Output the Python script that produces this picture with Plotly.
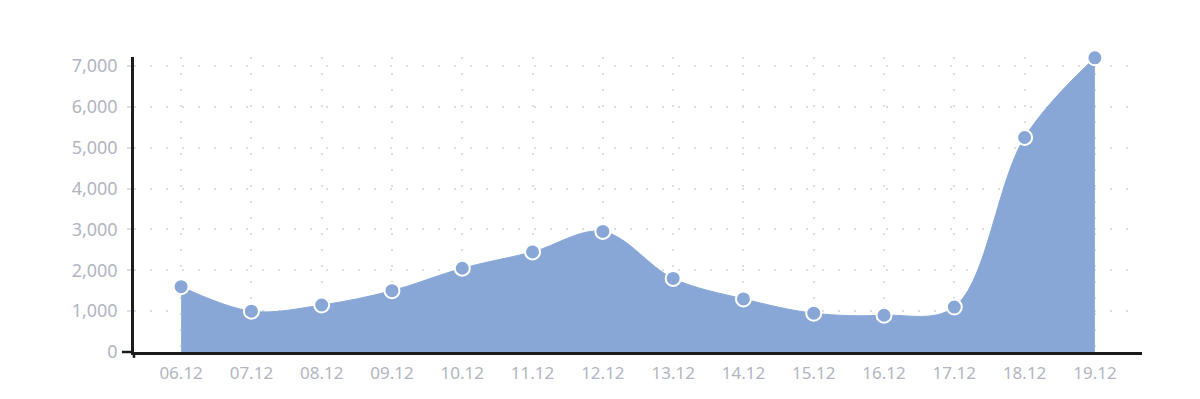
import plotly.graph_objects as go

dates = ["06.12", "07.12", "08.12", "09.12", "10.12", "11.12", "12.12",
         "13.12", "14.12", "15.12", "16.12", "17.12", "18.12", "19.12"]
values = [1600, 1000, 1150, 1500, 2050, 2450, 2950,
          1800, 1300, 950, 900, 1100, 5250, 7200]
y_ticks = [0, 1000, 2000, 3000, 4000, 5000, 6000, 7000]

x_idx = list(range(len(dates)))
fill_col = "#88a7d7"
label_col = "#b2b5c1"
grid_col = "#dcdee4"

fig = go.Figure()
fig.add_trace(go.Scatter(
    x=x_idx, y=values, mode="lines+markers",
    line=dict(shape="spline", smoothing=1.0, color=fill_col, width=1),
    fill="tozeroy", fillcolor=fill_col,
    marker=dict(size=15, color=fill_col, line=dict(color="white", width=2)),
    cliponaxis=False, hoverinfo="skip", showlegend=False,
))

fig.update_layout(
    width=1200, height=399,
    margin=dict(l=134, r=58, t=57, b=47),
    paper_bgcolor="white", plot_bgcolor="white",
    font=dict(family="Noto Sans", size=17, color=label_col),
    xaxis=dict(
        range=[-0.67, 13.67], tickvals=x_idx, ticktext=dates,
        showgrid=True, gridcolor=grid_col, gridwidth=2, griddash="2px,14px",
        showline=True, linecolor="#1c1c1c", linewidth=2.5,
        ticks="", zeroline=False, tickfont=dict(size=17, color=label_col),
        ticklabelstandoff=4,
    ),
    yaxis=dict(
        range=[0, 7220], tickvals=y_ticks, tickformat=",d",
        showgrid=True, gridcolor=grid_col, gridwidth=2, griddash="2px,14px",
        showline=True, linecolor="#1c1c1c", linewidth=2.5,
        ticks="outside", ticklen=4, tickcolor=grid_col, tickwidth=2,
        zeroline=False, tickfont=dict(size=18, color=label_col),
        ticklabelstandoff=6,
        layer="below traces",
    ),
)

# small overhangs where the axes cross
fig.add_shape(type="line", xref="paper", yref="paper", x0=-0.012, x1=0, y0=0, y1=0,
              line=dict(color="#1c1c1c", width=2.5))
fig.add_shape(type="line", xref="paper", yref="paper", x0=0, x1=0, y0=-0.02, y1=0,
              line=dict(color="#1c1c1c", width=2.5))

fig.write_html("out.html")
